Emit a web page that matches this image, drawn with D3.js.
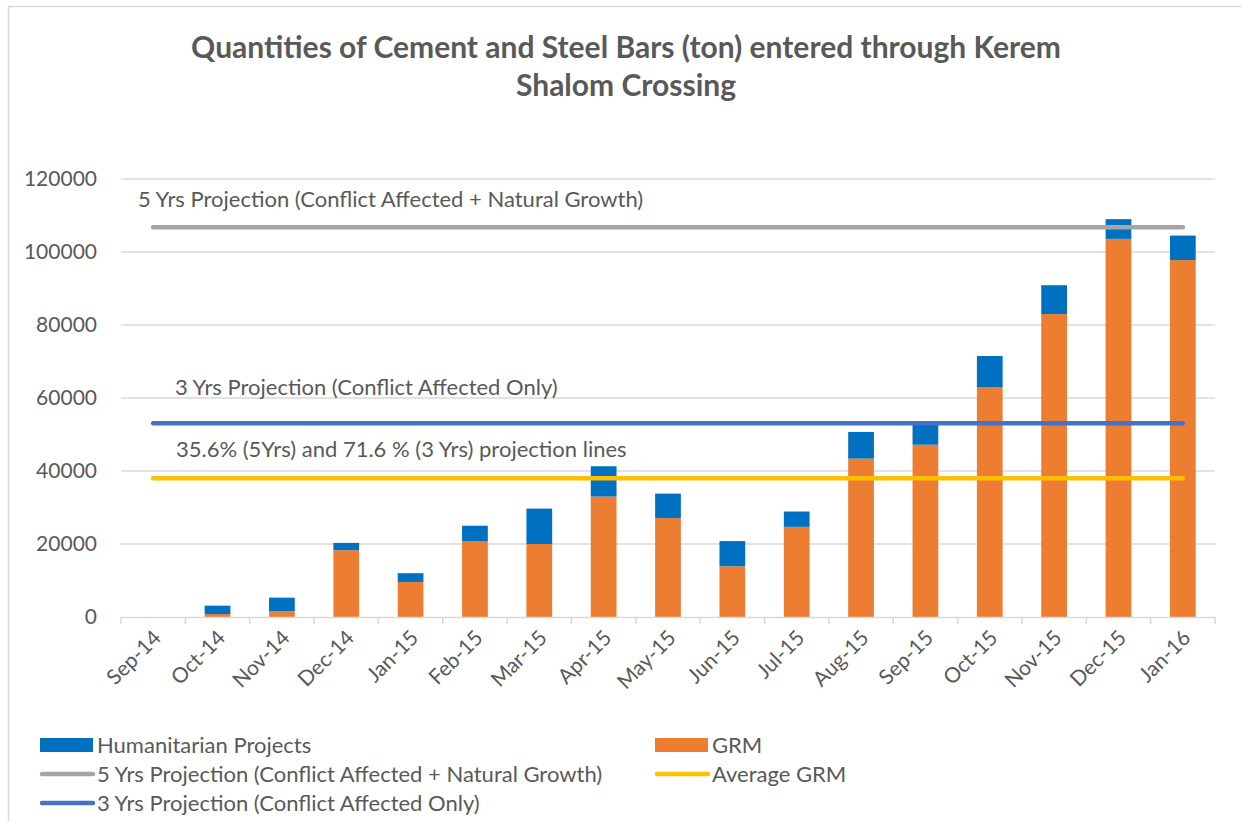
<!DOCTYPE html>
<html>
<head>
<meta charset="utf-8">
<script src="https://cdn.jsdelivr.net/npm/d3@7/dist/d3.min.js"></script>
<style>
  html, body { margin: 0; padding: 0; background: #ffffff; }
  svg { display: block; font-family: Lato, "Open Sans", sans-serif; }
</style>
</head>
<body>
<svg id="chart" width="1241" height="821"></svg>
<script>
// ---- data ----
const months = ["Sep-14","Oct-14","Nov-14","Dec-14","Jan-15","Feb-15","Mar-15","Apr-15","May-15","Jun-15","Jul-15","Aug-15","Sep-15","Oct-15","Nov-15","Dec-15","Jan-16"];
const grm =          [0, 800, 1600, 18300, 9600, 20700, 20000, 33000, 27100, 13900, 24700, 43400, 47200, 62900, 83000, 103600, 97800];
const humanitarian = [0, 2300, 3700, 2000, 2400, 4300, 9700, 8300, 6700, 6900, 4200, 7300, 6100, 8600, 7900, 5400, 6700];
const projection5 = 106800;
const projection3 = 53100;
const averageGrm = 38000;
const yTicks = [0, 20000, 40000, 60000, 80000, 100000, 120000];
const titleLines = ["Quantities of Cement and Steel Bars (ton) entered through Kerem", "Shalom Crossing"];
const lineNotes = [
  {value: projection5, text: "5 Yrs Projection (Conflict Affected + Natural Growth)"},
  {value: projection3, text: "3 Yrs Projection (Conflict Affected Only)"},
  {value: averageGrm, text: "35.6% (5Yrs) and 71.6 % (3 Yrs) projection lines"}
];
const legendItems = [
  {name: "Humanitarian Projects", kind: "rect", color: "#0070C0"},
  {name: "GRM", kind: "rect", color: "#ED7D31"},
  {name: "5 Yrs Projection (Conflict Affected + Natural Growth)", kind: "line", color: "#A5A5A5"},
  {name: "Average GRM", kind: "line", color: "#FFC000"},
  {name: "3 Yrs Projection (Conflict Affected Only)", kind: "line", color: "#4472C4"}
];

// ---- layout ----
const svg = d3.select("#chart");
const textColor = "#595959";
const gridColor = "#d9d9d9";

// chart border
svg.append("rect").attr("x", 8.5).attr("y", 6.5).attr("width", 1260).attr("height", 830)
  .attr("fill", "none").attr("stroke", gridColor).attr("stroke-width", 1.5);

const xOuter = d3.scaleBand().domain(months).range([121, 1215]);
const y = d3.scaleLinear().domain([0, 120000]).range([617, 179]);

// title
svg.append("g").selectAll("text").data(titleLines).join("text")
  .attr("x", 626).attr("y", (d, i) => 58 + i * 38)
  .attr("text-anchor", "middle").attr("fill", textColor)
  .attr("font-weight", "bold").attr("font-size", 30)
  .text(d => d);

// gridlines
svg.append("g").selectAll("line").data(yTicks.filter(d => d > 0)).join("line")
  .attr("x1", 121).attr("x2", 1215)
  .attr("y1", d => y(d)).attr("y2", d => y(d))
  .attr("stroke", gridColor).attr("stroke-width", 1.5);

// y axis labels
const yAxis = d3.axisLeft(y).tickValues(yTicks).tickSize(0).tickPadding(0).tickFormat(d3.format("d"));
const gy = svg.append("g").attr("transform", "translate(97,0)").call(yAxis);
gy.select(".domain").remove();
gy.selectAll("text").attr("fill", textColor).attr("font-size", 21).attr("font-family", "Lato, 'Open Sans', sans-serif");

// stacked bars
const stackData = months.map((m, i) => ({month: m, GRM: grm[i], Humanitarian: humanitarian[i]}));
const stack = d3.stack().keys(["GRM", "Humanitarian"])(stackData);
const barColors = {GRM: "#ED7D31", Humanitarian: "#0070C0"};
svg.append("g").selectAll("g").data(stack).join("g")
  .attr("fill", d => barColors[d.key])
  .selectAll("rect").data(d => d).join("rect")
  .attr("x", d => xOuter(d.data.month) + xOuter.bandwidth() * 0.3)
  .attr("width", xOuter.bandwidth() * 0.4)
  .attr("y", d => y(d[1]))
  .attr("height", d => Math.max(0, y(d[0]) - y(d[1])));

// x axis
const xAxis = d3.axisBottom(xOuter).tickSize(0).tickFormat(d => d);
const gx = svg.append("g").attr("transform", "translate(0,617)").call(xAxis);
gx.select(".domain").attr("stroke", gridColor).attr("stroke-width", 1.5);
gx.selectAll(".tick line").remove();
gx.selectAll("text")
  .attr("fill", textColor).attr("font-size", 21).attr("font-family", "Lato, 'Open Sans', sans-serif")
  .attr("text-anchor", "end")
  .attr("dy", 0)
  .attr("transform", "translate(7,20) rotate(-45)");
// tick marks at band boundaries
const bounds = months.map(m => xOuter(m)).concat([xOuter(months[months.length - 1]) + xOuter.bandwidth()]);
svg.append("g").selectAll("line").data(bounds).join("line")
  .attr("x1", d => d).attr("x2", d => d).attr("y1", 617).attr("y2", 624)
  .attr("stroke", gridColor).attr("stroke-width", 1.5);

// projection lines
const xc = m => xOuter(m) + xOuter.bandwidth() / 2;
const refLines = [
  {value: projection5, color: "#A5A5A5"},
  {value: projection3, color: "#4472C4"},
  {value: averageGrm, color: "#FFC000"}
];
svg.append("g").selectAll("line").data(refLines).join("line")
  .attr("x1", xc(months[0])).attr("x2", xc(months[months.length - 1]))
  .attr("y1", d => y(d.value)).attr("y2", d => y(d.value))
  .attr("stroke", d => d.color).attr("stroke-width", 4.5).attr("stroke-linecap", "round");

// line annotations
const noteX = [138, 175, 176];
const noteDy = [-20, -28, -21];
svg.append("g").selectAll("text").data(lineNotes).join("text")
  .attr("x", (d, i) => noteX[i]).attr("y", (d, i) => y(d.value) + noteDy[i])
  .attr("fill", textColor).attr("font-size", 22)
  .text(d => d.text);

// legend
const legendPos = [[40, 745], [655, 745], [40, 774], [655, 774], [40, 803]];
const lg = svg.append("g").selectAll("g").data(legendItems).join("g")
  .attr("transform", (d, i) => `translate(${legendPos[i][0]},${legendPos[i][1]})`);
lg.filter(d => d.kind === "rect").append("rect")
  .attr("x", 0).attr("y", -7).attr("width", 53).attr("height", 14).attr("fill", d => d.color);
lg.filter(d => d.kind === "line").append("line")
  .attr("x1", 2).attr("x2", 53).attr("y1", 0).attr("y2", 0)
  .attr("stroke", d => d.color).attr("stroke-width", 4.5).attr("stroke-linecap", "round");
lg.append("text").attr("x", 57).attr("y", 0).attr("dy", "0.35em")
  .attr("fill", textColor).attr("font-size", 22).text(d => d.name);
</script>
</body>
</html>
